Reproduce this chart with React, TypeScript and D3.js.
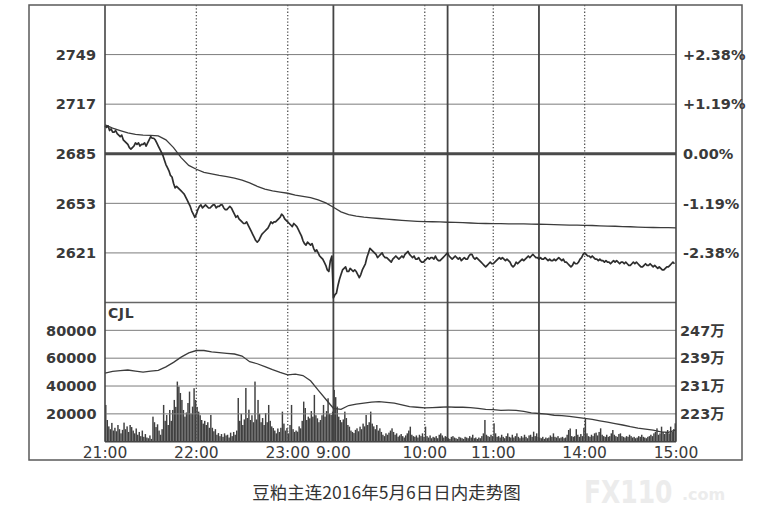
import * as d3 from "d3";

const W = 763;
const H = 522;
const FRAME = { left: 29, right: 742, top: 5, bottom: 460 };
const PLOT = { left: 105, right: 676, top: 5, mid: 302.5, bottom: 441.7 };
const TOTAL_MIN = 375;
const FONT = "'DejaVu Sans', 'Noto Sans CJK SC', sans-serif";

// time axis (trading minutes from 21:00, breaks removed)
const timeTickMin = [0, 60, 120, 150, 210, 255, 315, 375];
const timeTickLabels = ["21:00", "22:00", "23:00", "9:00", "10:00", "11:00", "14:00", "15:00"];
const solidDividers = [150, 225, 285];
const dottedDividers = [60, 120, 210, 255, 315];

const priceTicks = [2621, 2653, 2685, 2717, 2749];
const pctLabels = ["-2.38%", "-1.19%", "0.00%", "+1.19%", "+2.38%"];
const volTicks = [20000, 40000, 60000, 80000];
const oiLabels = ["223万", "231万", "239万", "247万"];

// last price, one per minute
const price = [
  2703, 2702, 2703, 2700, 2701, 2699, 2699, 2700, 2698, 2697,
  2696, 2697, 2694, 2693, 2692, 2691, 2689, 2688, 2689, 2690,
  2692, 2691, 2692, 2690, 2691, 2691, 2692, 2690, 2692, 2694,
  2696, 2695, 2695, 2694, 2692, 2690, 2688, 2686, 2684, 2681,
  2678, 2676, 2674, 2671, 2670, 2666, 2663, 2664, 2663, 2662,
  2661, 2660, 2659, 2657, 2655, 2653, 2651, 2648, 2646, 2644,
  2646, 2649, 2651, 2652, 2650, 2651, 2652, 2651, 2650, 2650,
  2651, 2652, 2652, 2650, 2651, 2651, 2652, 2652, 2650, 2649,
  2649, 2650, 2651, 2650, 2648, 2646, 2644, 2645, 2643, 2642,
  2641, 2640, 2640, 2641, 2639, 2637, 2635, 2633, 2631, 2629,
  2628, 2629, 2631, 2633, 2634, 2635, 2636, 2637, 2639, 2641,
  2640, 2641, 2641, 2642, 2643, 2644, 2646, 2645, 2643, 2642,
  2641, 2640, 2639, 2638, 2640, 2639, 2638, 2636, 2634, 2632,
  2629, 2627, 2626, 2628, 2627, 2626, 2627, 2624, 2622, 2623,
  2621, 2619, 2618, 2617, 2615, 2613, 2610, 2609, 2616, 2619,
  2592, 2594, 2595, 2600, 2604, 2607, 2610, 2611, 2612, 2609,
  2609, 2611, 2610, 2609, 2610, 2609, 2607, 2605, 2607, 2610,
  2612, 2614, 2618, 2621, 2624, 2623, 2622, 2621, 2620, 2618,
  2619, 2620, 2621, 2619, 2618, 2618, 2617, 2616, 2615, 2617,
  2618, 2619, 2618, 2617, 2618, 2619, 2618, 2620, 2621, 2622,
  2620, 2619, 2618, 2619, 2617, 2617, 2618, 2616, 2615, 2615,
  2616, 2617, 2618, 2617, 2618, 2618, 2617, 2619, 2617, 2616,
  2616, 2617, 2618, 2619, 2620, 2621, 2619, 2618, 2617, 2618,
  2619, 2618, 2617, 2618, 2616, 2617, 2618, 2617, 2617, 2619,
  2620, 2620, 2618, 2617, 2618, 2617, 2616, 2615, 2614, 2613,
  2612, 2613, 2614, 2615, 2614, 2614, 2615, 2616, 2617, 2618,
  2617, 2618, 2617, 2616, 2617, 2616, 2615, 2613, 2612, 2613,
  2615, 2614, 2615, 2616, 2617, 2616, 2617, 2618, 2619, 2618,
  2619, 2620, 2619, 2618, 2618, 2617, 2618, 2617, 2617, 2618,
  2617, 2616, 2617, 2616, 2616, 2617, 2616, 2617, 2618, 2617,
  2616, 2617, 2615, 2615, 2614, 2613, 2612, 2613, 2615, 2614,
  2614, 2615, 2617, 2618, 2620, 2621, 2620, 2619, 2619, 2618,
  2619, 2618, 2617, 2617, 2616, 2617, 2616, 2616, 2615, 2616,
  2615, 2615, 2614, 2615, 2616, 2615, 2616, 2615, 2614, 2615,
  2615, 2614, 2615, 2614, 2613, 2613, 2614, 2615, 2614, 2615,
  2614, 2613, 2612, 2612, 2613, 2614, 2613, 2613, 2614, 2613,
  2612, 2613, 2612, 2611, 2612, 2611, 2610, 2610, 2611, 2612,
  2612, 2613, 2614, 2615, 2614,
];

// average price, every 5 minutes
const AVG_STEP = 5;
const avgPrice = [
  2703.7, 2701.5, 2700, 2698.5, 2697.5, 2697, 2696.8, 2696.5, 2694, 2689,
  2682.5, 2677.5, 2675, 2673, 2672, 2671, 2670.2, 2669.3, 2668, 2666.2,
  2664, 2662.2, 2661, 2660.2, 2659.5, 2658.3, 2657.5, 2656.7, 2655.2, 2653.3,
  2650.5, 2647.5, 2645.7, 2644.8, 2644.1, 2643.6, 2643.2, 2642.8, 2642.4, 2642,
  2641.7, 2641.4, 2641.2, 2641.1, 2641, 2640.8, 2640.7, 2640.5, 2640.3, 2640.1,
  2640, 2639.9, 2639.9, 2639.8, 2639.8, 2639.7, 2639.6, 2639.5, 2639.4, 2639.2,
  2639.1, 2639, 2638.9, 2638.8, 2638.7, 2638.5, 2638.3, 2638.2, 2638, 2637.9,
  2637.7, 2637.5, 2637.4, 2637.3, 2637.3, 2637.2,
];

// open interest (万手), every 5 minutes
const openInterest = [
  234.7, 235.2, 235.4, 235.6, 235.3, 235, 235.3, 235.5, 236.5, 237.8,
  239.3, 240.5, 241.2, 241.2, 240.8, 240.6, 240.4, 240.2, 239.6, 238,
  237.4, 236.6, 235.7, 234.9, 234.2, 234.4, 234, 232.5, 229.8, 227.2,
  224.6, 224.3, 225.4, 225.8, 226.1, 226.4, 226.5, 226.3, 226.1, 225.6,
  225.1, 224.9, 224.7, 224.8, 224.9, 225, 224.9, 224.9, 224.8, 224.6,
  224.3, 224.2, 224, 224.1, 224, 223.7, 223.3, 223.1, 222.9, 222.6,
  222.5, 222.3, 222, 221.7, 221.4, 221, 220.6, 220.2, 219.8, 219.3,
  218.9, 218.6, 218.3, 217.8, 217.7, 218.4,
];

// volume (CJL), one per minute
const volume = [
  26400, 15600, 11000, 9000, 13500, 8000, 10000, 7500, 12000, 9000,
  6000, 8500, 13700, 9000, 11000, 7000, 12000, 10500, 8000, 6000,
  9500, 5000, 7000, 4000, 8000, 3500, 5500, 3000, 2500, 4500,
  2000, 18000, 14000, 10500, 12500, 8000, 5000, 9000, 26400, 15000,
  19200, 12000, 22800, 15000, 22800, 30000, 25000, 43200, 39600, 35000,
  30000, 22800, 18000, 21000, 27800, 36000, 20000, 25200, 38400, 30000,
  25000, 21600, 19000, 15600, 13000, 15000, 12000, 14000, 10000, 19200,
  10000, 7500, 9000, 5000, 6200, 4000, 5500, 3500, 6000, 4500,
  5000, 3000, 6500, 4000, 7000, 5000, 8000, 31400, 15000, 20000,
  12000, 16000, 38600, 17000, 23000, 15600, 19000, 14000, 43200, 16000,
  30000, 20000, 14000, 17000, 12000, 20600, 14000, 26400, 15000, 11000,
  9800, 8000, 6000, 9500, 7000, 10000, 21600, 13000, 8000, 9800,
  6000, 12000, 26400, 9000, 7000, 8000, 7200, 11000, 9600, 15000,
  28800, 24200, 15600, 18000, 16800, 22000, 18000, 33600, 19000, 16800,
  14000, 15600, 19000, 26400, 18000, 22000, 31200, 20000, 19200, 21600,
  37200, 32000, 25200, 18000, 15600, 14000, 16000, 21600, 17000, 12000,
  10800, 8000, 7000, 6200, 8500, 9600, 7500, 10800, 9000, 13000,
  11000, 19200, 12000, 14000, 21600, 13000, 11000, 9000, 12000, 8000,
  9600, 7000, 5000, 4000, 6000, 5000, 6500, 8000, 9600, 7000,
  5000, 6000, 3600, 4500, 5500, 4000, 3000, 4500, 6000, 8000,
  10800, 5000, 4000, 3500, 4500, 3000, 5000, 4000, 6000, 3500,
  10800, 4000, 3000, 4500, 2500, 3500, 3000, 4000, 2500, 5000,
  6000, 4500, 3000, 4000, 3500, 2500, 2000, 3500, 4000, 3000,
  2500, 2000, 3500, 3000, 2500, 2000, 3500, 3000, 2500, 4000,
  3000, 5000, 2500, 3000, 2000, 3000, 2500, 4000, 6000, 15600,
  5000, 4000, 3500, 5000, 4000, 13200, 6000, 3500, 4000, 3000,
  5000, 3500, 2500, 4000, 6000, 3500, 3000, 5000, 3000, 4000,
  6000, 3500, 2500, 4000, 3000, 5000, 3500, 2500, 4500, 5000,
  3500, 7200, 4000, 6000, 3500, 3000, 2500, 3500, 2000, 3000,
  2500, 3000, 4500, 3500, 6000, 3500, 3000, 4000, 2500, 3000,
  3500, 2500, 3000, 5000, 8400, 9500, 4000, 3500, 4000, 9000,
  5000, 3500, 5500, 4000, 10000, 16800, 6000, 4000, 3500, 5000,
  4000, 6000, 6500, 4500, 7000, 9600, 5000, 4000, 3500, 5000,
  3500, 4000, 6000, 8400, 5000, 4000, 3500, 5500, 6000, 4000,
  3500, 3000, 4000, 3500, 5000, 4000, 3000, 3500, 2500, 3000,
  4000, 3500, 5000, 3500, 3000, 2500, 3500, 4000, 5000, 4000,
  6000, 7000, 9600, 5000, 6000, 10800, 7000, 5500, 7000, 8400,
  6000, 10800, 7000, 9000, 13200,
];

export default function App() {
  const x = d3.scaleLinear().domain([0, TOTAL_MIN]).range([PLOT.left, PLOT.right]);
  const yP = d3.scaleLinear().domain([2589, 2781]).range([PLOT.mid, PLOT.top]);
  const yV = d3.scaleLinear().domain([0, 100000]).range([PLOT.bottom, PLOT.mid]);
  const yOI = d3.scaleLinear().domain([215, 255]).range([PLOT.bottom, PLOT.mid]);

  const priceLine = d3
    .line<number>()
    .x((_, i) => x(i))
    .y((d) => yP(d))(price);
  const avgLine = d3
    .line<number>()
    .x((_, i) => x(Math.min(i * AVG_STEP, TOTAL_MIN)))
    .y((d) => yP(d))(avgPrice);
  const oiLine = d3
    .line<number>()
    .x((_, i) => x(Math.min(i * AVG_STEP, TOTAL_MIN)))
    .y((d) => yOI(d))(openInterest);

  const band = x(1) - x(0);
  const textColor = "#3a3a3a";

  return (
    <svg
      width={W}
      height={H}
      viewBox={`0 0 ${W} ${H}`}
      style={{ position: "absolute", left: 0, top: 0, background: "#fff" }}
      fontFamily={FONT}
    >
      <rect x={0} y={0} width={W} height={H} fill="#fff" />

      {/* volume bars */}
      <g fill="#3f3f3f">
        {volume.map((v, i) => (
          <rect key={i} x={x(i) + 0.05} y={yV(v)} width={band * 0.95} height={PLOT.bottom - yV(v)} />
        ))}
      </g>

      {/* horizontal grid - price */}
      {priceTicks.map((t) => (
        <line
          key={t}
          x1={PLOT.left}
          x2={PLOT.right}
          y1={yP(t)}
          y2={yP(t)}
          stroke={t === 2685 ? "#4a4a4a" : "#7c7c7c"}
          strokeWidth={t === 2685 ? 3 : 1}
        />
      ))}
      {/* horizontal grid - volume */}
      {volTicks.map((t) => (
        <line key={t} x1={PLOT.left} x2={PLOT.right} y1={yV(t)} y2={yV(t)} stroke="#7c7c7c" strokeWidth={1} />
      ))}
      <line x1={PLOT.left} x2={PLOT.right} y1={PLOT.mid} y2={PLOT.mid} stroke="#666" strokeWidth={1.3} />

      {/* vertical dividers */}
      {dottedDividers.map((m) => (
        <line
          key={m}
          x1={x(m)}
          x2={x(m)}
          y1={PLOT.top}
          y2={PLOT.bottom}
          stroke="#555"
          strokeWidth={1.3}
          strokeDasharray="1.3,2"
        />
      ))}
      {solidDividers.map((m) => (
        <line key={m} x1={x(m)} x2={x(m)} y1={PLOT.top} y2={PLOT.bottom} stroke="#444" strokeWidth={1.8} />
      ))}

      {/* lines */}
      <path d={avgLine ?? ""} fill="none" stroke="#3c3c3c" strokeWidth={1.3} />
      <path d={priceLine ?? ""} fill="none" stroke="#2e2e2e" strokeWidth={1.7} strokeLinejoin="round" />
      <path d={oiLine ?? ""} fill="none" stroke="#3c3c3c" strokeWidth={1.3} />

      {/* plot borders */}
      <line x1={PLOT.left} x2={PLOT.left} y1={PLOT.top} y2={PLOT.bottom} stroke="#444" strokeWidth={1.6} />
      <line x1={PLOT.right} x2={PLOT.right} y1={PLOT.top} y2={PLOT.bottom} stroke="#444" strokeWidth={1.6} />
      <line x1={PLOT.left} x2={PLOT.right} y1={PLOT.bottom} y2={PLOT.bottom} stroke="#444" strokeWidth={1.4} />

      {/* outer frame */}
      <rect
        x={FRAME.left}
        y={FRAME.top}
        width={FRAME.right - FRAME.left}
        height={FRAME.bottom - FRAME.top}
        fill="none"
        stroke="#5a5a5a"
        strokeWidth={1.5}
      />

      {/* watermark */}
      <g fill="#ececec" fontFamily="'DejaVu Sans', sans-serif" fontWeight="bold">
        <text transform="translate(584,503) scale(1,1.3)" fontSize={25}>
          FX110
        </text>
        <text x={682} y={500} fontSize={16}>
          .com
        </text>
      </g>

      {/* left labels */}
      {priceTicks.map((t) => (
        <text key={t} x={96} y={yP(t)} dy="0.36em" textAnchor="end" fontSize={14.5} fontWeight="bold" fill={textColor}>
          {t}
        </text>
      ))}
      {volTicks.map((t) => (
        <text key={t} x={96.5} y={yV(t)} dy="0.36em" textAnchor="end" fontSize={14.5} fontWeight="bold" fill={textColor}>
          {t}
        </text>
      ))}

      {/* right labels */}
      {priceTicks.map((t, i) => (
        <text key={t} x={683} y={yP(t)} dy="0.36em" fontSize={14.5} fontWeight="bold" fill={textColor}>
          {pctLabels[i]}
        </text>
      ))}
      {volTicks.map((t, i) => (
        <text key={t} x={680} y={yV(t)} dy="0.36em" fontSize={14.5} fontWeight="bold" fill={textColor}>
          {oiLabels[i]}
        </text>
      ))}

      <text x={108} y={313} dy="0.36em" fontSize={14} fontWeight="bold" fill={textColor} letterSpacing={0.6}>
        CJL
      </text>

      {/* time labels */}
      {timeTickMin.map((m, i) => (
        <text key={m} x={x(m)} y={452} dy="0.36em" textAnchor="middle" fontSize={15.5} fill={textColor}>
          {timeTickLabels[i]}
        </text>
      ))}

      {/* caption */}
      <text x={386.5} y={493} dy="0.36em" textAnchor="middle" fontSize={17.5} fill="#333" fontFamily="'Noto Sans CJK SC', sans-serif">
        豆粕主连2016年5月6日日内走势图
      </text>
    </svg>
  );
}
